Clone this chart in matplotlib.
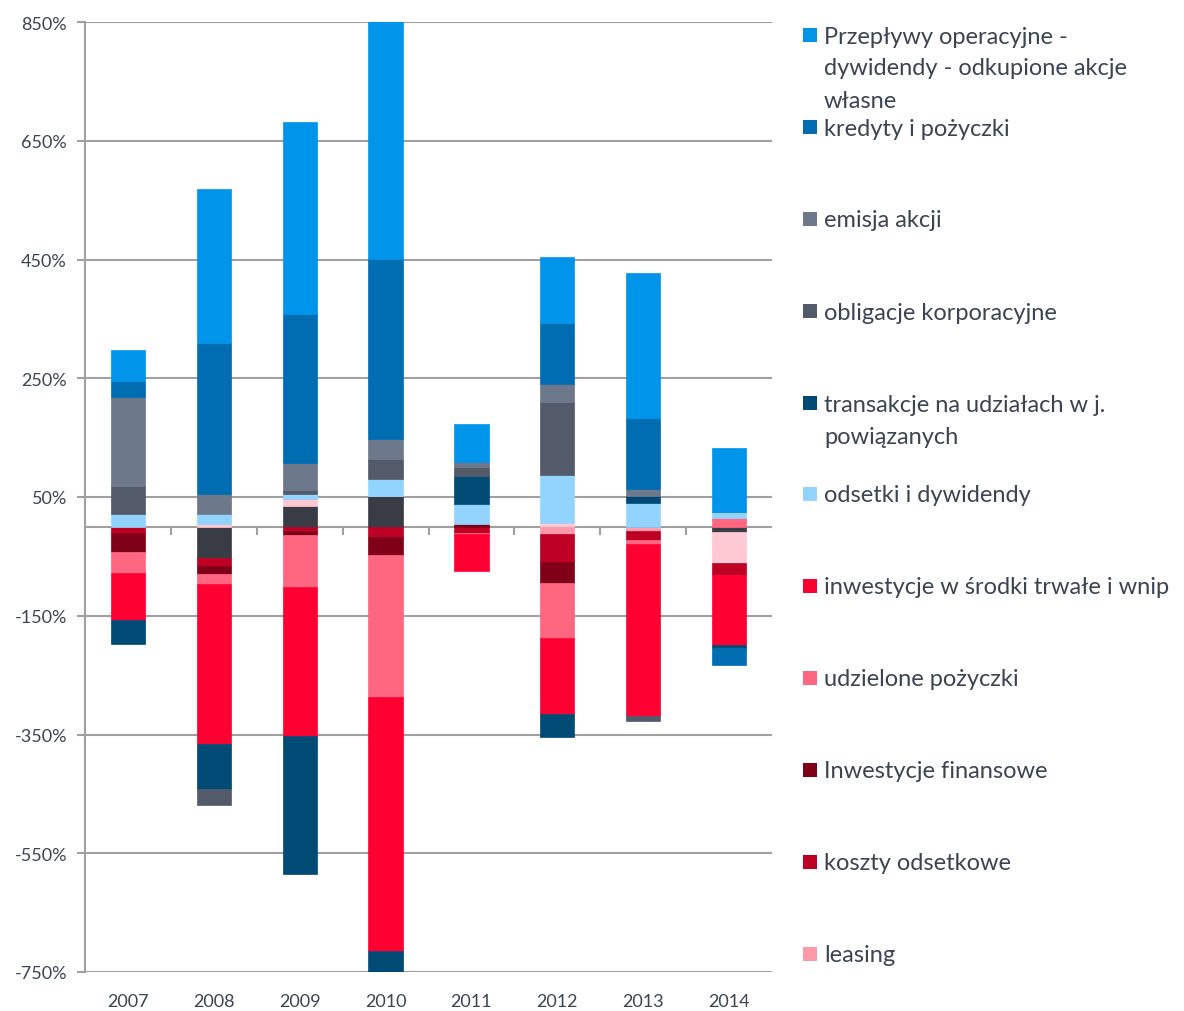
import numpy as np
import matplotlib
matplotlib.use("Agg")
import matplotlib.pyplot as plt
from matplotlib.patches import Rectangle

plt.rcParams['font.family'] = ['Lato', 'DejaVu Sans']

years = ['2007', '2008', '2009', '2010', '2011', '2012', '2013', '2014']

# series in stacking order (first one sits next to zero)
inne_a = [0, -53, 35, 52, 0, 0, 0, -9]          # not in the visible legend
inne_b = [0, 5, 11, 0, 0, 7, -3, -52]            # not in the visible legend
leasing = [0, 0, 0, 0, 0, -12, -5, 0]
koszty_odsetkowe = [-10, -13, -8, -17, -10, -47, -15, -20]
inwestycje_finansowe = [-33, -13, -6, -30, 4, -36, 0, 0]
udzielone_pozyczki = [-35, -18, -88, -239, -3, -93, -6, 15]
srodki_trwale = [-79, -269, -251, -429, -61, -128, -289, -119]
odsetki_dywidendy = [21, 16, 9, 29, 35, 80, 40, 9]
transakcje = [-40, -75, -232, -36, 47, -39, 12, -5]
obligacje = [48, -27, 7, 33, 14, 123, -10, 0]
emisja_akcji = [149, 34, 46, 33, 9, 31, 11, 0]
kredyty = [27, 255, 251, 304, 0, 102, 120, -28]
przeplywy = [53, 258, 323, 400, 64, 111, 244, 109]

series = [
    (inne_a, '#393C45', None),
    (inne_b, '#FFC9D3', None),
    (leasing, '#FF99AA', ['leasing']),
    (koszty_odsetkowe, '#BE0025', ['koszty odsetkowe']),
    (inwestycje_finansowe, '#800018', ['Inwestycje finansowe']),
    (udzielone_pozyczki, '#FF6680', ['udzielone pożyczki']),
    (srodki_trwale, '#FF0033', ['inwestycje w środki trwałe i wnip']),
    (odsetki_dywidendy, '#93D4FF', ['odsetki i dywidendy']),
    (transakcje, '#004B76', ['transakcje na udziałach w j.', 'powiązanych']),
    (obligacje, '#535A69', ['obligacje korporacyjne']),
    (emisja_akcji, '#6D788A', ['emisja akcji']),
    (kredyty, '#006CB2', ['kredyty i pożyczki']),
    (przeplywy, '#0094EA', ['Przepływy operacyjne -', 'dywidendy - odkupione akcje', 'własne']),
]

W, H = 1184, 1012
fig = plt.figure(figsize=(W / 100, H / 100), dpi=100)
ax = fig.add_axes([85 / W, 1 - 973 / H, (772 - 85) / W, (973 - 23) / H])

x = np.arange(len(years))
pos_base = np.zeros(len(years))
neg_base = np.zeros(len(years))
for vals, col, _ in series:
    v = np.array(vals, dtype=float)
    bottom = np.where(v >= 0, pos_base, neg_base)
    ax.bar(x, v, 0.4, bottom=bottom, color=col, edgecolor=col, linewidth=0.5, zorder=3)
    pos_base += np.where(v > 0, v, 0)
    neg_base += np.where(v < 0, v, 0)

grid_col = '#A0A0A0'
txt_col = '#3B4453'
ax.set_ylim(-750, 850)
ax.set_xlim(-0.5, len(years) - 0.5)
ax.set_yticks(np.arange(-750, 851, 200))
ax.set_yticklabels(['%d%%' % t for t in np.arange(-750, 851, 200)])
ax.yaxis.grid(True, color=grid_col, linewidth=1.5, zorder=0)
ax.set_axisbelow(True)
ax.axhline(0, color=grid_col, linewidth=1.5, zorder=1)

for s in ['top', 'right', 'bottom']:
    ax.spines[s].set_visible(False)
ax.spines['left'].set_color(grid_col)
ax.spines['left'].set_linewidth(1.5)
ax.tick_params(axis='y', length=6, width=1.5, color=grid_col, labelcolor=txt_col,
               labelsize=13, pad=7)

ax.set_xticks(x)
ax.set_xticklabels(years)
ax.tick_params(axis='x', length=0, labelcolor=txt_col, labelsize=13, pad=15)

# small tick marks on the zero axis between categories
ax2 = ax.secondary_xaxis((0 + 750) / 1600)
ax2.spines['bottom'].set_visible(False)
ax2.set_xticks(np.arange(0.5, len(years) - 0.5, 1))
ax2.set_xticklabels([])
ax2.tick_params(axis='x', length=6, width=1.5, color=grid_col, direction='out')

# legend on the right, evenly spaced entries
entry_y = [36, 128, 220, 312, 404, 495, 587, 679, 771, 863, 955]
legend_items = [(col, lab) for _, col, lab in series[::-1] if lab is not None]
for (col, lines), yy in zip(legend_items, entry_y):
    fig.patches.append(Rectangle((803 / W, 1 - (yy + 7) / H), 14 / W, 14 / H,
                                 transform=fig.transFigure, facecolor=col,
                                 edgecolor='none'))
    for i, line in enumerate(lines):
        fig.text(824 / W, 1 - (yy + 1 + 32 * i) / H, line, va='center', ha='left',
                 fontsize=17, color=txt_col)

fig.savefig('out.png', dpi=100)
